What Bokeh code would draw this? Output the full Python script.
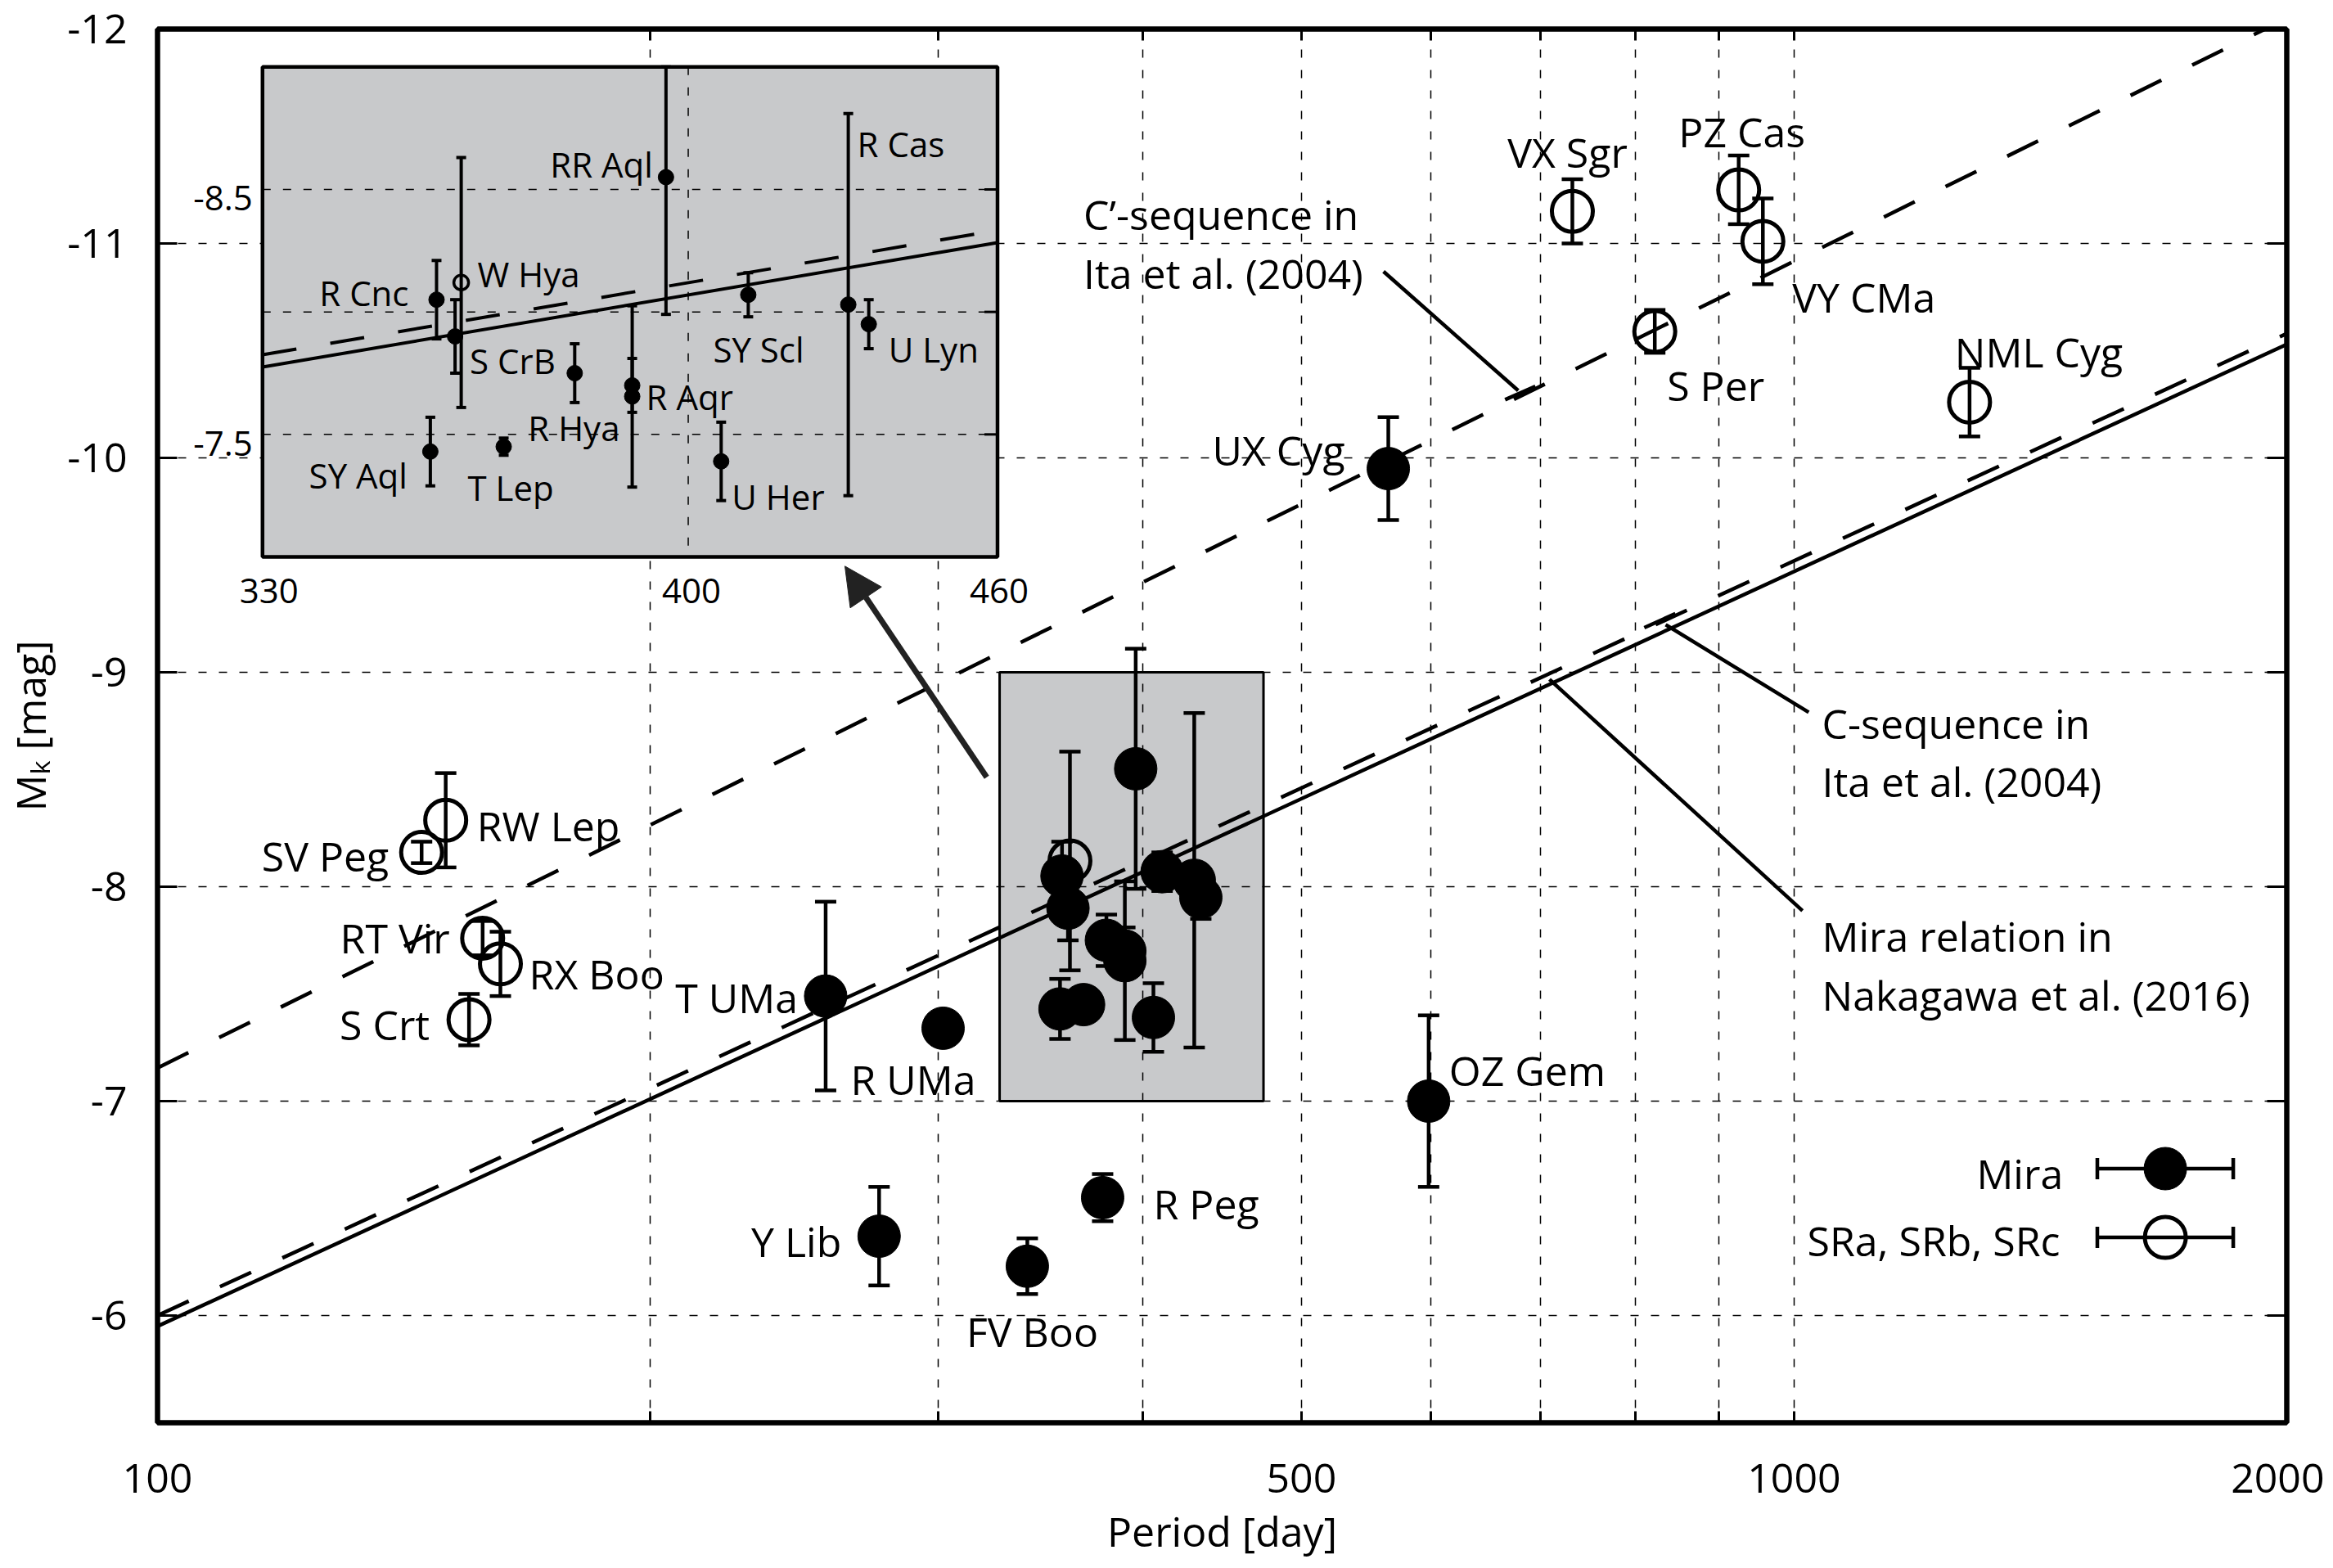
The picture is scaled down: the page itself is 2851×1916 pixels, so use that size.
import numpy as np
from math import pi
from bokeh.plotting import figure
from bokeh.models import (Range1d, LogScale, LinearAxis, LogAxis, FixedTicker,
                          ColumnDataSource, Arrow, NormalHead,
                          CustomJSTickFormatter, BasicTickFormatter)
from bokeh.core.properties import value
from bokeh.embed import file_html
from bokeh.resources import INLINE

FONT = "Open Sans"

# ---------------- data ----------------
# Mira variables (filled symbols): period [day], M_K [mag], 1-sigma error
mira_names = ["UX Cyg", "T UMa", "R UMa", "Y Lib", "FV Boo", "R Peg", "OZ Gem",
              "R Cnc", "S CrB", "RR Aql", "SY Scl", "R Cas", "U Lyn", "R Hya",
              "R Aqr", "R Aqr", "SY Aql", "T Lep", "U Her"]
mira_period = [565, 256, 302, 276, 340, 378, 598,
               357, 360, 396, 411, 430, 434, 380, 390, 390, 356, 368, 406]
mira_mk = [-9.95, -7.49, -7.34, -6.37, -6.23, -6.55, -7.00,
           -8.05, -7.90, -8.55, -8.07, -8.03, -7.95, -7.75,
           -7.70, -7.655, -7.43, -7.45, -7.39]
mira_err = [0.24, 0.44, 0.06, 0.23, 0.13, 0.11, 0.40,
            0.16, 0.15, 0.56, 0.09, 0.78, 0.10, 0.12,
            0.11, 0.37, 0.14, 0.035, 0.16]

# Semi-regular variables (open symbols)
sr_names = ["W Hya", "SV Peg", "RW Lep", "RT Vir", "RX Boo", "S Crt",
            "VX Sgr", "S Per", "PZ Cas", "VY CMa", "NML Cyg"]
sr_period = [361, 145, 150, 158, 162, 155, 732, 822, 925, 957, 1280]
sr_mk = [-8.12, -8.16, -8.31, -7.76, -7.64, -7.38, -11.15, -10.59, -11.25, -11.01, -10.26]
sr_err = [0.51, 0.05, 0.22, 0.08, 0.15, 0.12, 0.15, 0.10, 0.16, 0.20, 0.16]

# Period-luminosity relations: M_K = slope * log10(P) + intercept
rel_cprime = (-3.762, 0.369)   # C'-sequence, Ita et al. (2004)
rel_c = (-3.52, 1.04)          # C-sequence, Ita et al. (2004)
rel_mira = (-3.52, 1.09)       # Mira relation, Nakagawa et al. (2016)

x_ticks_major = [100, 500, 1000, 2000]
x_ticks_minor = [200, 300, 400, 600, 700, 800, 900]
y_ticks = [-12, -11, -10, -9, -8, -7, -6]
inset_x_ticks = [330, 400, 460]
inset_y_grid = [-8.5, -8.0, -7.5]
inset_y_labels = [-8.5, -7.5]

X_RANGE = (100, 2000)
Y_RANGE = (-5.5, -12.0)
ZOOM_BOX = (327, 474, -9.0, -7.0)     # highlighted region: P0, P1, Mtop, Mbottom
INSET_P = (330, 460)
INSET_M = (-9.0, -7.0)

# ---------------- layout geometry ----------------
FX0, FY0 = 195, 43                        # frame top-left on the page
FW, FH = 2602, 1703
INSET_PAGE = (323.3, 89.3, 1221.5, 688.0) # inset box on the page (l, t, r, b)
GRAY = "#c8c9cb"
TXT_DY = -11                              # baseline correction for text glyphs

LX0, LX1 = np.log10(X_RANGE)
def P_at(xp):
    return 10 ** (LX0 + (xp - FX0) / FW * (LX1 - LX0))
def M_at(yp):
    return Y_RANGE[1] + (yp - FY0) / FH * (Y_RANGE[0] - Y_RANGE[1])

il, it, ir, ib = (INSET_PAGE[0] - FX0, INSET_PAGE[1] - FY0, INSET_PAGE[2] - FX0, INSET_PAGE[3] - FY0)
k = (np.log10(INSET_P[1]) - np.log10(INSET_P[0])) / (ir - il)
La = np.log10(INSET_P[0]) - il * k
Lb = La + FW * k
s = (INSET_M[1] - INSET_M[0]) / (ib - it)
Mtop_in = INSET_M[0] - it * s
Mbot_in = INSET_M[0] + (FH - it) * s

p = figure(x_axis_type="log", x_range=Range1d(*X_RANGE), y_range=Range1d(*Y_RANGE),
           frame_width=FW, frame_height=FH, output_backend="svg", toolbar_location=None,
           min_border_left=FX0 - 8, min_border_right=46, min_border_top=FY0 - 8,
           min_border_bottom=166,
           background_fill_color="white", border_fill_color="white")
p.outline_line_color = "black"
p.outline_line_width = 6

p.extra_x_ranges = {"inset": Range1d(10 ** La, 10 ** Lb)}
p.extra_x_scales = {"inset": LogScale()}
p.extra_y_ranges = {"inset": Range1d(Mbot_in, Mtop_in)}

xt = FixedTicker(ticks=x_ticks_major, minor_ticks=x_ticks_minor)
yt = FixedTicker(ticks=y_ticks, minor_ticks=[])

xa = p.xaxis[0]
xa.ticker = xt
xa.formatter = BasicTickFormatter(use_scientific=False)
xa.major_label_overrides = {t: str(t) for t in x_ticks_major}
ya = p.yaxis[0]
ya.ticker = yt
ya.major_label_overrides = {t: str(t) for t in y_ticks}

blank = CustomJSTickFormatter(code="return ''")
top_ax = LogAxis(ticker=xt, formatter=blank)
right_ax = LinearAxis(ticker=yt, formatter=blank)
p.add_layout(top_ax, "above")
p.add_layout(right_ax, "right")

for ax in (xa, top_ax):
    ax.major_tick_in = 14
    ax.minor_tick_in = 14
for ax in (ya, right_ax):
    ax.major_tick_in = 24
    ax.minor_tick_in = 0
for ax in (xa, ya, top_ax, right_ax):
    ax.major_tick_out = 0
    ax.minor_tick_out = 0
    ax.axis_line_width = 6
    ax.axis_line_color = "black"
    ax.major_tick_line_width = 3
    ax.minor_tick_line_width = 3
    ax.major_tick_line_color = "black"
    ax.minor_tick_line_color = "black"
    ax.major_label_text_font = FONT
    ax.major_label_text_font_size = "50px"
    ax.major_label_text_color = "black"
for ax in (top_ax, right_ax):
    ax.major_label_standoff = 0
    ax.major_label_text_font_size = "10px"
xa.major_label_standoff = 50
ya.major_label_standoff = 37
for ax, lab, so in ((xa, "Period [day]", 10), (ya, "M\u2096 [mag]", 8)):
    ax.axis_label = lab
    ax.axis_label_text_font = FONT
    ax.axis_label_text_font_size = "50px"
    ax.axis_label_text_font_style = "normal"
    ax.axis_label_text_color = "black"
    ax.axis_label_standoff = so

xg = p.xgrid[0]
xg.ticker = xt
yg = p.ygrid[0]
yg.ticker = yt
for g in (xg, yg):
    g.grid_line_color = "black"
    g.grid_line_dash = "10 15"
    g.grid_line_width = 1.5
xg.minor_grid_line_color = "black"
xg.minor_grid_line_dash = "10 15"
xg.minor_grid_line_width = 1.5

# highlighted zoom region (under the grid)
p.quad(left=[ZOOM_BOX[0]], right=[ZOOM_BOX[1]], top=[ZOOM_BOX[2]], bottom=[ZOOM_BOX[3]],
       fill_color=GRAY, line_color="black", line_width=3, level="image")

# relations
def rel(r, P):
    return r[0] * np.log10(np.asarray(P, dtype=float)) + r[1]

px = np.array(X_RANGE, dtype=float)
p.line(px, rel(rel_cprime, px), line_color="black", line_width=4.5, line_dash="42 42")
p.line(px, rel(rel_c, px), line_color="black", line_width=4.5, line_dash="42 42")
p.line(px, rel(rel_mira, px), line_color="black", line_width=4.5)

# leader lines for the relation labels (page pixel geometry)
leaders = [((1693.2, 339.3), (1857.8, 484.7)), ((1841.8, 495.9), (1878.8, 479.6)),
           ((2038.0, 770.8), (2212.8, 877.9)), ((2011.9, 774.5), (2049.9, 757.4)),
           ((1896.0, 837.7), (2205.2, 1120.3))]
p.segment(x0=[P_at(a[0]) for a, b in leaders], y0=[M_at(a[1]) for a, b in leaders],
          x1=[P_at(b[0]) for a, b in leaders], y1=[M_at(b[1]) for a, b in leaders],
          line_color="black", line_width=4.5)

# error bars + markers (main)
def errorbars(P, M, E, lw, cap, clip=None, **kw):
    P = np.asarray(P, float); M = np.asarray(M, float); E = np.asarray(E, float)
    lo, hi = M - E, M + E
    if clip is not None:
        lo = np.clip(lo, clip[0], clip[1]); hi = np.clip(hi, clip[0], clip[1])
    p.segment(x0=P, y0=lo, x1=P, y1=hi, line_color="black", line_width=lw, **kw)
    p.scatter(np.concatenate([P, P]), np.concatenate([lo, hi]), marker="dash", size=cap,
              line_color="black", line_width=lw, **kw)

errorbars(mira_period, mira_mk, mira_err, 4.5, 26)
errorbars(sr_period, sr_mk, sr_err, 4.5, 26)
p.scatter(mira_period, mira_mk, marker="circle", size=52, fill_color="black", line_color="black")
p.scatter(sr_period, sr_mk, marker="circle", size=50, fill_color=None, line_color="black", line_width=5)

# ---------------- inset ----------------
IN = dict(x_range_name="inset", y_range_name="inset")
p.quad(left=[INSET_P[0]], right=[INSET_P[1]], top=[INSET_M[0]], bottom=[INSET_M[1]],
       fill_color=GRAY, line_color="black", line_width=4.5, **IN)
p.segment(x0=[400], y0=[INSET_M[0]], x1=[400], y1=[INSET_M[1]], line_color="black",
          line_width=1.5, line_dash="10 15", **IN)
p.segment(x0=[INSET_P[0]] * 3, y0=inset_y_grid, x1=[INSET_P[1]] * 3, y1=inset_y_grid,
          line_color="black", line_width=1.5, line_dash="10 15", **IN)
p.ray(x=[INSET_P[1]] * 3, y=inset_y_grid, length=16, length_units="screen", angle=pi,
      line_color="black", line_width=3, **IN)
ip = np.array(INSET_P, dtype=float)
p.line(ip, rel(rel_c, ip), line_color="black", line_width=4, line_dash="42 42", **IN)
p.line(ip, rel(rel_mira, ip), line_color="black", line_width=4, **IN)

def in_inset(P, M):
    return INSET_P[0] <= P <= INSET_P[1] and INSET_M[0] <= M <= INSET_M[1]

mi = [i for i in range(len(mira_period)) if in_inset(mira_period[i], mira_mk[i])]
si = [i for i in range(len(sr_period)) if in_inset(sr_period[i], sr_mk[i])]
errorbars([mira_period[i] for i in mi], [mira_mk[i] for i in mi], [mira_err[i] for i in mi],
          4, 12, clip=INSET_M, **IN)
errorbars([sr_period[i] for i in si], [sr_mk[i] for i in si], [sr_err[i] for i in si],
          4, 12, clip=INSET_M, **IN)
p.scatter([mira_period[i] for i in mi], [mira_mk[i] for i in mi], marker="circle", size=19,
          fill_color="black", line_color="black", **IN)
p.scatter([sr_period[i] for i in si], [sr_mk[i] for i in si], marker="circle", size=18,
          fill_color=None, line_color="black", line_width=3.5, **IN)

# ---------------- texts ----------------
def add_texts(fig, xs, ys, texts, dxs, dys, aligns, size, angle=0.0, **kw):
    for al in ("left", "center", "right"):
        idx = [i for i, a in enumerate(aligns) if a == al]
        if not idx:
            continue
        src = ColumnDataSource(dict(x=[xs[i] for i in idx], y=[ys[i] for i in idx],
                                    t=[texts[i] for i in idx], dx=[dxs[i] for i in idx],
                                    dy=[dys[i] for i in idx]))
        fig.text(x="x", y="y", text="t", x_offset="dx", y_offset="dy", source=src, angle=angle,
                 text_align=al, text_baseline="alphabetic", text_font=value(FONT),
                 text_font_size=size, text_color="black", **kw)

main_label_style = {
    "VX Sgr": ("center", -6, -61), "PZ Cas": ("center", 4, -60),
    "VY CMa": ("left", 36, 79), "S Per": ("left", 15, 77),
    "NML Cyg": ("left", -18, -50), "UX Cyg": ("right", -53, -12),
    "SV Peg": ("right", -40, 15), "RW Lep": ("left", 38, 18),
    "RT Vir": ("right", -40, 11), "RX Boo": ("left", 35, 23),
    "S Crt": ("right", -48, 17), "T UMa": ("right", -34, 13),
    "R UMa": ("left", -113, 74), "Y Lib": ("right", -46, 17),
    "FV Boo": ("center", 6, 91), "R Peg": ("left", 62, 19),
    "OZ Gem": ("left", 25, -27),
}
inset_label_style = {
    "R Cnc": ("right", -34, 2), "W Hya": ("left", 20, 0), "S CrB": ("left", 18, 40),
    "RR Aql": ("right", -16, -5), "R Hya": ("left", -57, 78), "R Aqr": ("left", 17, 25),
    "SY Scl": ("left", -43, 77), "R Cas": ("left", 11, -186), "U Lyn": ("left", 24, 41),
    "SY Aql": ("right", -28, 40), "T Lep": ("left", -44, 61), "U Her": ("left", 13, 54),
}

all_names = mira_names + sr_names
all_P = mira_period + sr_period
all_M = mira_mk + sr_mk

def labels_for(style):
    xs, ys, ts, dxs, dys, als = [], [], [], [], [], []
    seen = set()
    for n, P, M in zip(all_names, all_P, all_M):
        if n in style and n not in seen:
            seen.add(n)
            al, dx, dy = style[n]
            xs.append(P); ys.append(M); ts.append(n); dxs.append(dx); dys.append(dy + TXT_DY)
            als.append(al)
    return xs, ys, ts, dxs, dys, als

add_texts(p, *labels_for(main_label_style), size="50px")
add_texts(p, *labels_for(inset_label_style), size="42px", **IN)

# inset tick labels
add_texts(p, [INSET_P[0]] * 2, inset_y_labels, [str(v) for v in inset_y_labels], [-12, -12],
          [11, 11], ["right", "right"], size="42px", **IN)
add_texts(p, inset_x_ticks, [INSET_M[1]] * 3, [str(v) for v in inset_x_ticks], [8, 4, 2],
          [52 + TXT_DY] * 3, ["center"] * 3, size="42px", **IN)

# relation annotations (page pixel anchors)
ann = [("C\u2019-sequence in", 1326.5, 280.6), ("Ita et al. (2004)", 1326.5, 352.0),
       ("C-sequence in", 2229.0, 902.4), ("Ita et al. (2004)", 2229.0, 973.0),
       ("Mira relation in", 2229.0, 1162.6), ("Nakagawa et al. (2016)", 2229.0, 1234.8)]
add_texts(p, [P_at(a[1]) for a in ann], [M_at(a[2] + TXT_DY) for a in ann], [a[0] for a in ann],
          [0] * len(ann), [0] * len(ann), ["left"] * len(ann), size="50px")

# legend
LEG_X, LEG_BAR = 2648.6, (2565.5, 2731.6)
leg_rows = [("Mira", "black", 1435.5, 1452.6, 2523.7), ("SRa, SRb, SRc", None, 1519.5, 1534.4, 2520.0)]
for label, fill, ym, ytxt, xtxt in leg_rows:
    yy = M_at(ym)
    p.segment(x0=[P_at(LEG_BAR[0])], y0=[yy], x1=[P_at(LEG_BAR[1])], y1=[yy],
              line_color="black", line_width=4.5)
    p.scatter([P_at(LEG_BAR[0]), P_at(LEG_BAR[1])], [yy, yy], marker="dash", angle=pi / 2,
              size=26, line_color="black", line_width=4.5)
    if fill:
        p.scatter([P_at(LEG_X)], [yy], marker="circle", size=52, fill_color="black", line_color="black")
    else:
        p.scatter([P_at(LEG_X)], [yy], marker="circle", size=50, fill_color=None,
                  line_color="black", line_width=5)
    add_texts(p, [P_at(xtxt)], [M_at(ytxt + TXT_DY)], [label], [0], [0], ["right"], size="50px")

# arrow from zoom box to inset
p.add_layout(Arrow(end=NormalHead(size=46, fill_color="#222222", line_color="#222222"),
                   x_start=P_at(1208.3), y_start=M_at(957.3), x_end=P_at(1035.0), y_end=M_at(699.3),
                   line_color="#222222", line_width=7))

open("out.html", "w").write(file_html(p, INLINE))
